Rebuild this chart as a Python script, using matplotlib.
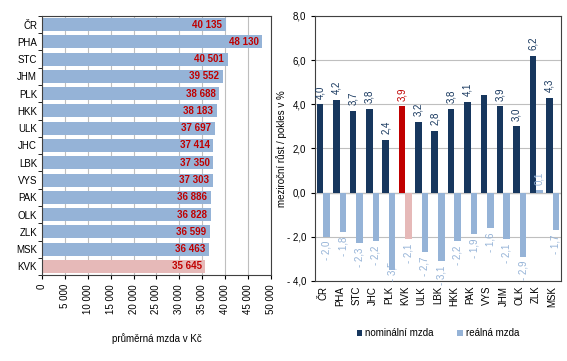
import matplotlib.pyplot as plt
import numpy as np

# left chart - average wage by region
regions_l = ['ČR', 'PHA', 'STC', 'JHM', 'PLK', 'HKK', 'ULK', 'JHC', 'LBK', 'VYS',
             'PAK', 'OLK', 'ZLK', 'MSK', 'KVK']
wages = [40135, 48130, 40501, 39552, 38688, 38183, 37697, 37414, 37350, 37303,
         36886, 36828, 36599, 36463, 35645]

# right chart - year-on-year change
regions_r = ['ČR', 'PHA', 'STC', 'JHC', 'PLK', 'KVK', 'ULK', 'LBK', 'HKK', 'PAK',
             'VYS', 'JHM', 'OLK', 'ZLK', 'MSK']
nominal = [4.0, 4.2, 3.7, 3.8, 2.4, 3.9, 3.2, 2.8, 3.8, 4.1, 4.4, 3.9, 3.0, 6.2, 4.3]
real = [-2.0, -1.8, -2.3, -2.2, -3.5, -2.1, -2.7, -3.1, -2.2, -1.9, -1.6, -2.1, -2.9, 0.1, -1.7]

BLUE = '#95B3D7'
PINK = '#E6B9B8'
NAVY = '#17375E'
RED = '#C00000'
FS = 7

plt.rcParams['font.family'] = ['Liberation Sans', 'DejaVu Sans']
fig = plt.figure(figsize=(5.67, 3.61), dpi=100)

def fmt_k(v):
    return f'{v:,.0f}'.replace(',', ' ')

def fmt_p(v):
    s = f'{abs(v):.1f}'.replace('.', ',')
    return '- ' + s if v < 0 else s

# ---- left chart
ax1 = fig.add_axes([0.074, 0.238, 0.404, 0.718])
y = np.arange(len(regions_l))
cols = [PINK if r == 'KVK' else BLUE for r in regions_l]
ax1.barh(y, wages, height=0.75, color=cols, zorder=2)
for yi, w in zip(y, wages):
    ax1.text(w - 800, yi, fmt_k(w), ha='right', va='center', color=RED,
             fontsize=FS, fontweight='bold', zorder=3)
ax1.set_ylim(len(regions_l) - 0.5, -0.5)
ax1.set_xlim(0, 50000)
ax1.set_xticks(np.arange(0, 50001, 5000))
ax1.set_xticklabels([fmt_k(v) for v in np.arange(0, 50001, 5000)], rotation=90, fontsize=FS)
ax1.set_yticks(y)
ax1.set_yticklabels(regions_l, fontsize=FS)
ax1.set_yticks(np.arange(-0.5, len(regions_l)), minor=True)
ax1.tick_params(axis='y', which='major', length=0)
ax1.tick_params(axis='y', which='minor', length=3)
ax1.tick_params(axis='x', length=3)
ax1.grid(axis='x', color='#BFBFBF', lw=0.8, zorder=0)
ax1.set_xlabel('průměrná mzda v Kč', fontsize=FS, labelpad=14)
for s in ax1.spines.values():
    s.set_color('#404040')

# ---- right chart
ax2 = fig.add_axes([0.556, 0.222, 0.433, 0.734])
x = np.arange(len(regions_r))
w = 0.4
ncol = [RED if r == 'KVK' else NAVY for r in regions_r]
rcol = [PINK if r == 'KVK' else BLUE for r in regions_r]
ax2.bar(x - w / 2, nominal, width=w, color=ncol, zorder=2, label='nominální mzda')
ax2.bar(x + w / 2, real, width=w, color=rcol, zorder=2, label='reálná mzda')
for xi, r, v in zip(x, regions_r, nominal):
    if r == 'VYS':
        continue
    ax2.text(xi - w / 2, v + 0.25, fmt_p(v), rotation=90, ha='center', va='bottom',
             fontsize=FS, color=RED if r == 'KVK' else NAVY, zorder=3)
for xi, r, v in zip(x, regions_r, real):
    if v < -3.3:
        # label would run past the axis, keep it inside like Excel does
        ax2.text(xi + w / 2, -4, fmt_p(v), rotation=90, ha='center', va='bottom',
                 fontsize=FS, color=BLUE, zorder=3)
    elif v < 0:
        ax2.text(xi + w / 2, v - 0.2, fmt_p(v), rotation=90, ha='center', va='top',
                 fontsize=FS, color=BLUE, zorder=3)
    else:
        ax2.text(xi + w / 2, v + 0.25, fmt_p(v), rotation=90, ha='center', va='bottom',
                 fontsize=FS, color=BLUE, zorder=3)
ax2.set_xlim(-0.5, len(regions_r) - 0.5)
ax2.set_ylim(-4, 8)
ax2.set_yticks(np.arange(-4, 8.1, 2))
ax2.set_yticklabels([fmt_p(v) for v in np.arange(-4, 8.1, 2)], fontsize=FS)
ax2.set_xticks(x)
ax2.set_xticklabels(regions_r, rotation=90, fontsize=FS)
ax2.tick_params(axis='x', length=0)
ax2.tick_params(axis='y', length=3)
ax2.grid(axis='y', color='#BFBFBF', lw=0.8, zorder=0)
ax2.axhline(0, color='#404040', lw=0.8, zorder=1)
ax2.set_ylabel('meziroční růst / pokles v %', fontsize=FS, labelpad=0)
for s in ax2.spines.values():
    s.set_color('#404040')
ax2.legend(loc='upper center', bbox_to_anchor=(0.5, -0.145), ncol=2, frameon=False,
           fontsize=FS, handlelength=0.6, handleheight=0.6, handletextpad=0.3,
           columnspacing=2.4)

fig.savefig('out.png', dpi=100)
